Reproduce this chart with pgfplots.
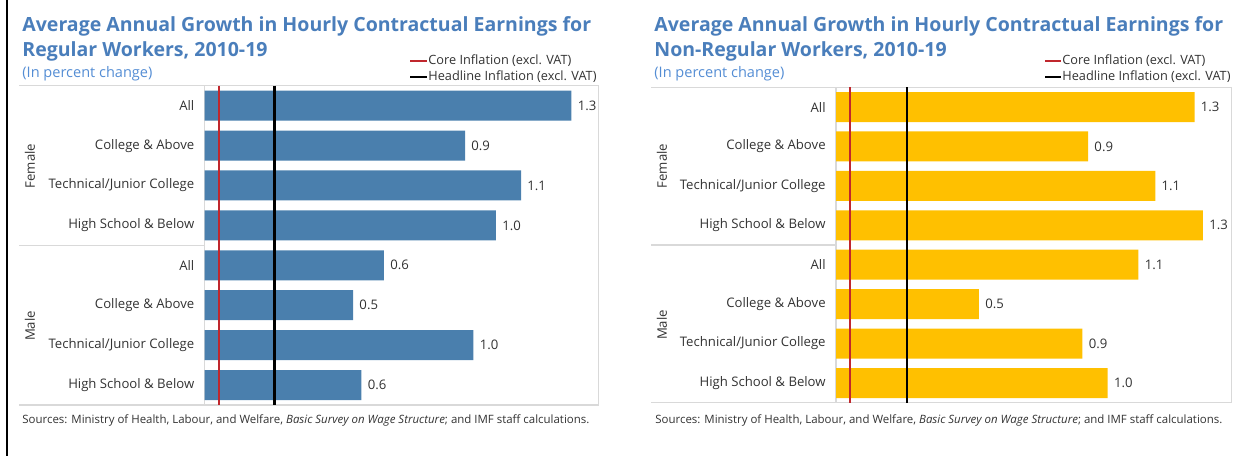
\documentclass[border=0pt]{standalone}
\usepackage{pgfplots}
\pgfplotsset{compat=1.18}
\usepackage{fontspec}
\setmainfont{Open Sans}

\definecolor{barblue}{RGB}{74,127,173}
\definecolor{baryellow}{RGB}{255,192,0}
\definecolor{titleblue}{RGB}{74,126,187}
\definecolor{subblue}{RGB}{84,141,212}
\definecolor{corered}{RGB}{192,39,45}
\definecolor{framegray}{RGB}{217,217,217}
\definecolor{txt}{RGB}{50,50,50}

\newcommand\titlefont{\fontsize{9.8}{11}\bfseries}
\newcommand\subfont{\fontsize{7.3}{8}\selectfont}
\newcommand\labfont{\fontsize{6.6}{8}\selectfont}
\newcommand\legfont{\fontsize{6.4}{7.5}\selectfont}
\newcommand\srcfont{\fontsize{5.75}{7}\selectfont}

\pgfplotsset{
  wagebars/.style={
    scale only axis, anchor=south west, clip=false,
    xmin=0, ymin=-0.5, ymax=7.5, y dir=reverse,
    bar width=15bp,
    axis line style={draw=none},
    major tick length=0pt, xtick=\empty,
    ytick={0,...,7},
    yticklabels={All, College \& Above, Technical/Junior College, High School \& Below,
                 All, College \& Above, Technical/Junior College, High School \& Below},
    yticklabel style={font=\labfont, text=txt, anchor=east, inner sep=0pt, xshift=-5bp},
  },
  barvals/.style={
    xbar, draw=none, fill=#1,
    nodes near coords,
    nodes near coords style={font=\labfont, text=txt, anchor=west, inner sep=0pt, xshift=3bp,
      /pgf/number format/.cd, fixed, fixed zerofill, precision=1, assume math mode=true},
  },
}

\begin{document}
\begin{tikzpicture}
\begin{scope}[x=0.5bp, y=-0.5bp]
\useasboundingbox (0,0) rectangle (1241,456);
\draw[black, line width=1bp] (7,0) -- (7,456);

% ---- left panel: regular workers
\draw[framegray, line width=0.6bp] (19,85.7) -- (598.3,85.7) -- (598.3,405) -- (19,405);
\draw[framegray, line width=0.6bp] (19,245.7) -- (204.7,245.7);
\draw[framegray, line width=0.6bp] (204.7,85.7) -- (204.7,405);
\node[anchor=base west, inner sep=0, font=\titlefont, text=titleblue] at (22,32)
  {Average Annual Growth in Hourly Contractual Earnings for};
\node[anchor=base west, inner sep=0, font=\titlefont, text=titleblue] at (22,57)
  {Regular Workers, 2010-19};
\node[anchor=base west, inner sep=0, font=\subfont, text=subblue] at (22,78)
  {(In percent change)};
\draw[corered, line width=1.3bp] (410,61) -- (427,61);
\node[anchor=west, inner sep=0, font=\legfont, text=txt] at (428,61) {Core Inflation (excl. VAT)};
\draw[black, line width=1.3bp] (410,77) -- (427,77);
\node[anchor=west, inner sep=0, font=\legfont, text=txt] at (428,77) {Headline Inflation (excl. VAT)};
\node[rotate=90, inner sep=0, font=\labfont, text=txt] at (30,166) {Female};
\node[rotate=90, inner sep=0, font=\labfont, text=txt] at (30,326) {Male};
\node[anchor=base west, inner sep=0, font=\srcfont, text=txt] at (22,424)
  {Sources: Ministry of Health, Labour, and Welfare, \textit{Basic Survey on Wage Structure}; and IMF staff calculations.};

% ---- right panel: non-regular workers
\draw[framegray, line width=0.6bp] (651,87.3) -- (1231.7,87.3) -- (1231.7,402.7) -- (651,402.7);
\draw[framegray, line width=0.6bp] (651,245) -- (836,245);
\draw[framegray, line width=0.6bp] (836,87.3) -- (836,402.7);
\node[anchor=base west, inner sep=0, font=\titlefont, text=titleblue] at (654,32)
  {Average Annual Growth in Hourly Contractual Earnings for};
\node[anchor=base west, inner sep=0, font=\titlefont, text=titleblue] at (654,57)
  {Non-Regular Workers, 2010-19};
\node[anchor=base west, inner sep=0, font=\subfont, text=subblue] at (654,78)
  {(In percent change)};
\draw[corered, line width=1.3bp] (1045,61) -- (1061,61);
\node[anchor=west, inner sep=0, font=\legfont, text=txt] at (1062,61) {Core Inflation (excl. VAT)};
\draw[black, line width=1.3bp] (1045,77) -- (1061,77);
\node[anchor=west, inner sep=0, font=\legfont, text=txt] at (1062,77) {Headline Inflation (excl. VAT)};
\node[rotate=90, inner sep=0, font=\labfont, text=txt] at (662,166) {Female};
\node[rotate=90, inner sep=0, font=\labfont, text=txt] at (662,325) {Male};
\node[anchor=base west, inner sep=0, font=\srcfont, text=txt] at (655,424)
  {Sources: Ministry of Health, Labour, and Welfare, \textit{Basic Survey on Wage Structure}; and IMF staff calculations.};
\end{scope}

\begin{axis}[wagebars, at={(102.35bp,-202.5bp)}, width=196.8bp, height=159.65bp, xmax=1.406]
  \addplot[barvals=barblue] coordinates {
    (1.31,0) (0.93,1) (1.13,2) (1.04,3) (0.64,4) (0.53,5) (0.96,6) (0.56,7)};
  \addplot[corered, line width=1bp, sharp plot] coordinates {(0.05,-0.5) (0.05,7.5)};
  \addplot[black, line width=1.2bp, sharp plot] coordinates {(0.25,-0.5) (0.25,7.5)};
\end{axis}

\begin{axis}[wagebars, at={(418bp,-201.35bp)}, width=197.85bp, height=157.7bp, xmax=1.413]
  \addplot[barvals=baryellow] coordinates {
    (1.28,0) (0.90,1) (1.14,2) (1.31,3) (1.08,4) (0.51,5) (0.88,6) (0.97,7)};
  \addplot[corered, line width=1bp, sharp plot] coordinates {(0.05,-0.5) (0.05,7.5)};
  \addplot[black, line width=1.2bp, sharp plot] coordinates {(0.254,-0.5) (0.254,7.5)};
\end{axis}
\end{tikzpicture}
\end{document}
